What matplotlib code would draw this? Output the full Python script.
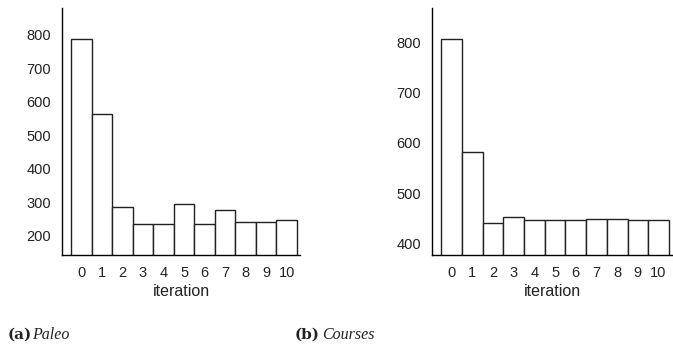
import matplotlib
matplotlib.use("Agg")
import matplotlib.pyplot as plt

# data
iterations = list(range(0, 11))
paleo = [788, 563, 285, 237, 237, 296, 237, 276, 243, 243, 246]
courses = [807, 581, 440, 452, 447, 446, 446, 448, 448, 446, 447]

panels = [
    ("(a)", "Paleo", paleo, (143, 880), [200, 300, 400, 500, 600, 700, 800]),
    ("(b)", "Courses", courses, (377, 868), [400, 500, 600, 700, 800]),
]

plt.rcParams['font.family'] = ['Liberation Sans', 'DejaVu Sans']

fig = plt.figure(figsize=(6.73, 3.49), dpi=100)

ax_pos = [[0.0921, 0.2693, 0.3536, 0.7077],
          [0.6419, 0.2693, 0.3566, 0.7077]]
cap_x = [(8, 32), (295, 322)]

for i, (tag, name, values, ylim, yticks) in enumerate(panels):
    ax = fig.add_axes(ax_pos[i])
    ax.bar(iterations, values, width=1.0, color="white",
           edgecolor="#222222", linewidth=1.0)
    ax.set_xlim(-0.95, 10.65)
    ax.set_ylim(*ylim)
    ax.set_xticks(iterations)
    ax.set_yticks(yticks)
    ax.tick_params(length=0, labelsize=10.5, colors="#222222", pad=8)
    ax.spines["top"].set_visible(False)
    ax.spines["right"].set_visible(False)
    ax.spines["left"].set_linewidth(1.0)
    ax.spines["bottom"].set_linewidth(1.0)
    ax.set_xlabel("iteration", fontsize=11.5, color="#222222", labelpad=3)

    # captions below each panel
    fig.text(cap_x[i][0] / 673, 1 - 339 / 349, tag, fontsize=11,
             fontweight="bold", family="DejaVu Serif", color="#222222")
    fig.text(cap_x[i][1] / 673, 1 - 339 / 349, name, fontsize=11.5,
             style="italic", family="Liberation Serif", color="#222222")

fig.savefig("out.png", dpi=100)
